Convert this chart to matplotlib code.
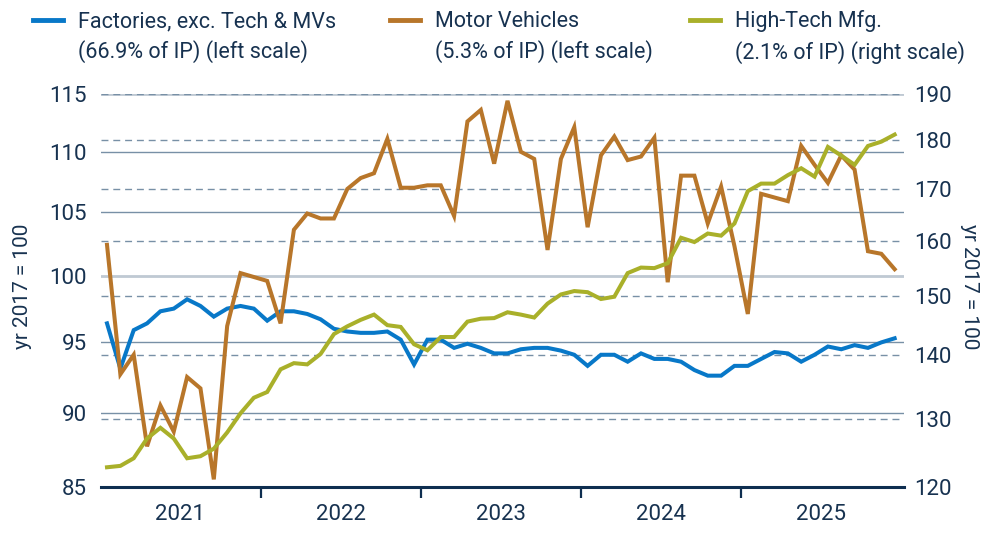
import matplotlib
matplotlib.use("Agg")
import matplotlib.pyplot as plt
import numpy as np
from matplotlib import ticker, transforms
from matplotlib.lines import Line2D

plt.rcParams['font.family'] = ['Roboto', 'DejaVu Sans']

# monthly index, Jan 2021 .. Dec 2025 (yr 2017 = 100)
years = ['2021', '2022', '2023', '2024', '2025']

factories = [96.4, 93.1, 95.9, 96.4, 97.3, 97.5, 98.2, 97.7, 96.9, 97.5,
             97.7, 97.5, 96.6, 97.3, 97.3, 97.1, 96.7, 96.0, 95.8, 95.7,
             95.7, 95.8, 95.2, 93.4, 95.2, 95.2, 94.6, 94.9, 94.6, 94.2,
             94.2, 94.5, 94.6, 94.6, 94.4, 94.1, 93.3, 94.1, 94.1, 93.6,
             94.2, 93.8, 93.8, 93.6, 93.0, 92.6, 92.6, 93.3, 93.3, 93.8,
             94.3, 94.2, 93.6, 94.1, 94.7, 94.5, 94.8, 94.6, 95.0, 95.3]

motor = [102.4, 92.7, 94.1, 87.7, 90.5, 88.7, 92.5, 91.7, 85.5, 96.2,
         100.2, 99.9, 99.6, 96.4, 103.6, 104.9, 104.5, 104.5, 106.9, 107.8,
         108.2, 111.1, 107.0, 107.0, 107.2, 107.2, 104.7, 112.6, 113.6, 109.0,
         114.4, 110.0, 109.4, 102.0, 109.4, 112.1, 103.8, 109.7, 111.3, 109.3,
         109.6, 111.2, 99.5, 108.0, 108.0, 104.1, 107.1, 102.3, 97.1, 106.5,
         106.2, 105.9, 110.5, 108.9, 107.4, 109.7, 108.5, 101.9, 101.7, 100.5]

hightech = [122.8, 123.0, 124.1, 127.0, 128.6, 127.0, 124.1, 124.4, 125.5, 127.9,
            130.8, 133.2, 134.1, 137.7, 138.7, 138.5, 140.2, 143.5, 144.8, 145.9,
            146.8, 145.0, 144.7, 141.8, 140.8, 143.0, 143.0, 145.6, 146.1, 146.2,
            147.2, 146.8, 146.3, 148.7, 150.3, 150.9, 150.7, 149.5, 149.9, 154.1,
            155.1, 155.0, 155.9, 160.6, 159.8, 161.4, 161.0, 163.3, 169.6, 171.1,
            171.1, 172.8, 174.2, 172.5, 178.6, 176.8, 174.9, 178.8, 179.7, 181.2]

left_ticks = [85, 90, 95, 100, 105, 110, 115]
right_ticks = [120, 130, 140, 150, 160, 170, 180, 190]

labels = [("Factories, exc. Tech & MVs", "(66.9% of IP) (left scale)"),
          ("Motor Vehicles", "(5.3% of IP) (left scale)"),
          ("High-Tech Mfg.", "(2.1% of IP) (right scale)")]

BLUE = '#0878C8'
ORANGE = '#B8762A'
GREEN = '#A9B02A'
NAVY = '#0E2E50'
TEXT = '#173250'
GRID = '#7890A6'
GRID_LIGHT = '#BFC9D3'

fig = plt.figure(figsize=(10, 5.4), dpi=100)
ax1 = fig.add_axes([0.101, 1 - 487 / 540, 0.803, (487 - 94) / 540])
ax2 = ax1.twinx()

x = np.arange(len(factories))

# left scale lines
ax1.plot(x, factories, color=BLUE, lw=2.9, zorder=3, solid_joinstyle='miter')
ax1.plot(x, motor, color=ORANGE, lw=2.9, zorder=3, solid_joinstyle='miter')
# right scale line
ax2.plot(x, hightech, color=GREEN, lw=2.9, zorder=3, solid_joinstyle='miter')

for ax, lo, hi, ticks in [(ax1, 85, 115, left_ticks), (ax2, 120, 190, right_ticks)]:
    ax.set_yscale('log')
    ax.set_ylim(lo, hi)
    ax.yaxis.set_major_locator(ticker.FixedLocator(ticks))
    ax.yaxis.set_major_formatter(ticker.FuncFormatter(lambda v, p: f"{v:g}"))
    ax.yaxis.set_minor_locator(ticker.NullLocator())
    ax.yaxis.set_minor_formatter(ticker.NullFormatter())
    for s in ax.spines.values():
        s.set_visible(False)

ax1.set_xlim(-0.45, 59.7)

# grid: solid for the left scale, dashed for the right scale (drawn under the lines)
for v in left_ticks[1:]:
    light = v in (100, 115)
    ax1.axhline(v, color=GRID_LIGHT if light else GRID, lw=2.0 if light else 1.0, zorder=0.5)
right_tf = transforms.blended_transform_factory(ax1.transAxes, ax2.transData)
for v in right_ticks[1:]:
    ax1.plot([0, 1], [v, v], transform=right_tf, color=GRID, lw=1.0,
             ls=(0, (5, 3.5)), zorder=0.6)

ax1.spines['bottom'].set_visible(True)
ax1.spines['bottom'].set_color(NAVY)
ax1.spines['bottom'].set_linewidth(2.2)

# year boundaries as ticks, year names centred between them
ax1.xaxis.set_major_locator(ticker.FixedLocator([12 * k - 0.5 for k in range(1, len(years))]))
ax1.xaxis.set_major_formatter(ticker.NullFormatter())
ax1.xaxis.set_minor_locator(ticker.FixedLocator([12 * k + 5.5 for k in range(len(years))]))
ax1.xaxis.set_minor_formatter(ticker.FixedFormatter(years))
ax1.tick_params(axis='x', which='major', length=8, width=1.6, color=NAVY, direction='out')
ax1.tick_params(axis='x', which='minor', length=0, pad=12, labelsize=16, labelcolor=TEXT)

ax1.tick_params(axis='y', length=0, pad=10, labelsize=16, labelcolor=TEXT)
ax2.tick_params(axis='y', length=0, pad=7, labelsize=16, labelcolor=TEXT)

ax1.set_ylabel("yr 2017 = 100", fontsize=15, color=TEXT, va='center')
ax1.yaxis.set_label_coords(-0.098, 0.51)
ax2.set_ylabel("yr 2017 = 100", fontsize=15, color=TEXT, rotation=-90, va='center')
ax2.yaxis.set_label_coords(1.082, 0.51)

# legend, drawn by hand: short swatch on the first line, two text lines
swatch_x = [33, 390, 690]
for (l1, l2), c, sx in zip(labels, [BLUE, ORANGE, GREEN], swatch_x):
    fig.add_artist(Line2D([sx / 1000, (sx + 30) / 1000], [1 - 20 / 540] * 2,
                          transform=fig.transFigure, color=c, lw=3.5))
    fig.text((sx + 45) / 1000, 1 - 37 / 540, l1 + "\n" + l2, fontsize=15.5,
             color=TEXT, va='center', ha='left', linespacing=1.45)

fig.savefig('out.png', dpi=100)
